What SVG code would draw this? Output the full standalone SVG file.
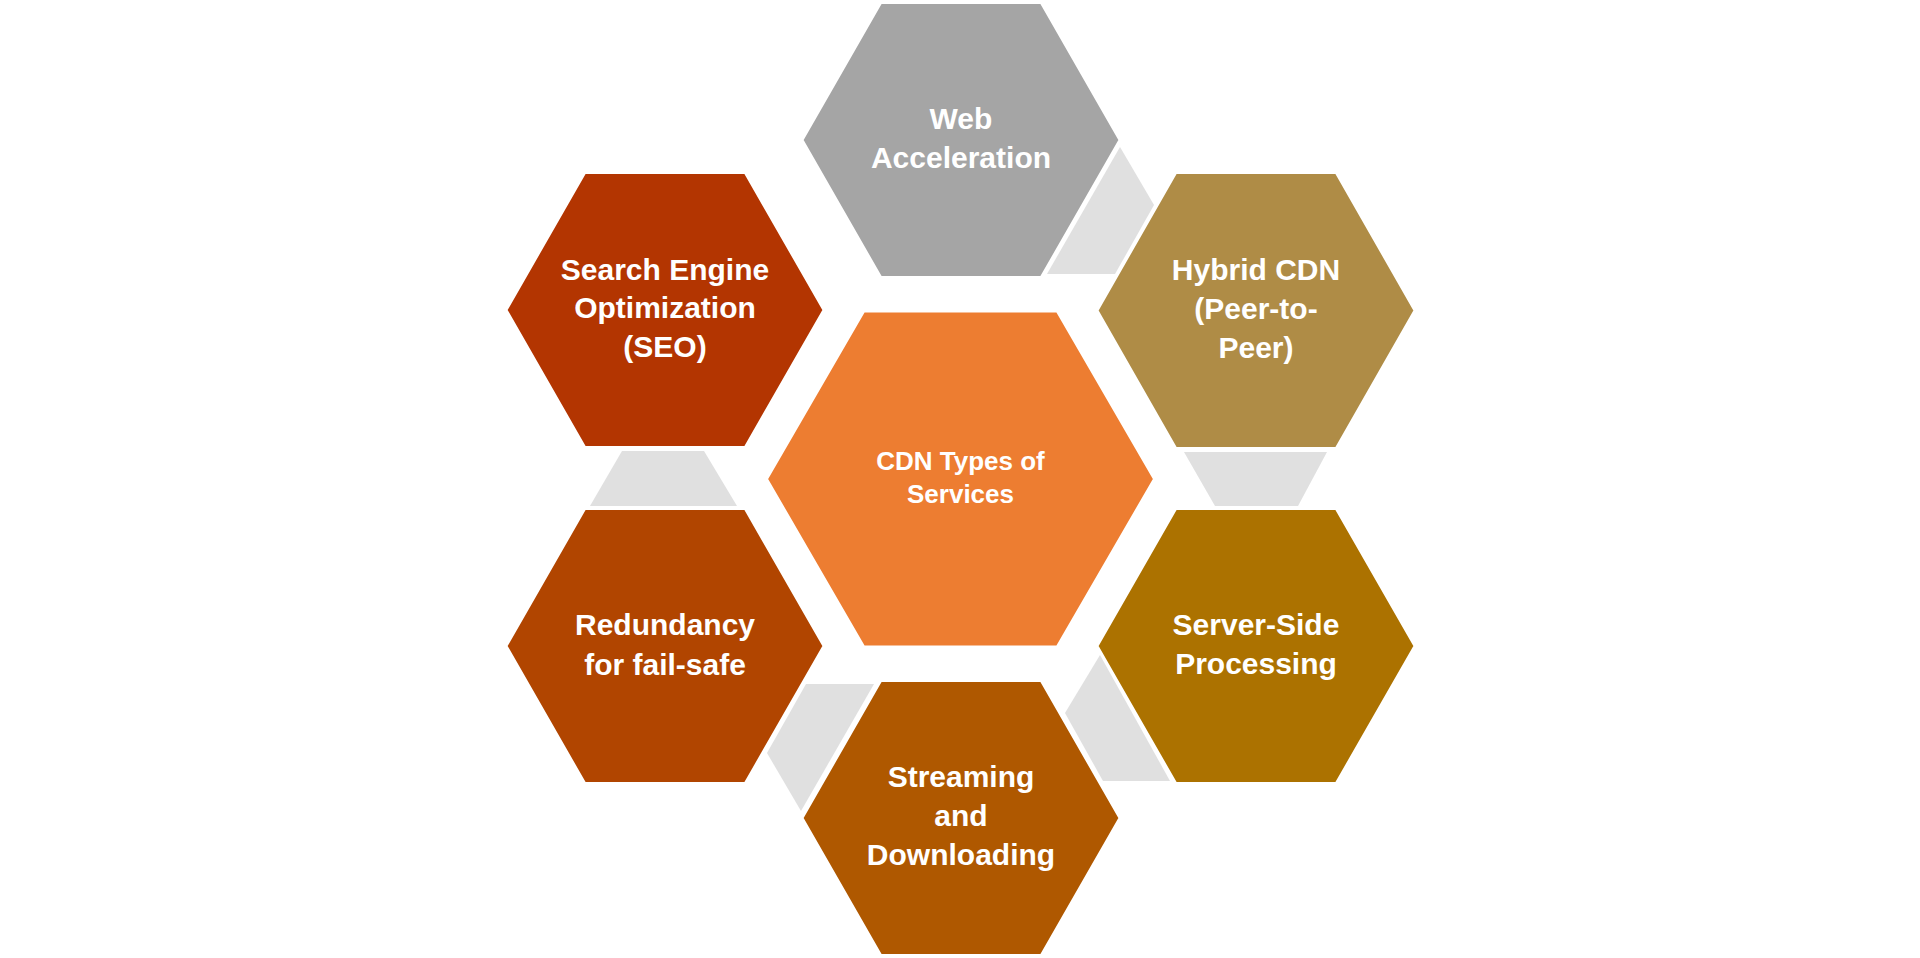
<svg xmlns="http://www.w3.org/2000/svg" width="1920" height="958" viewBox="0 0 1920 958">
<style>
.hex{stroke:#ffffff;stroke-width:2}
.con{fill:#E0E0E0;stroke:none}
.t{font-family:"Liberation Sans",Arial,sans-serif;font-weight:bold;font-size:30px;fill:#ffffff;text-anchor:middle}
.tc{font-family:"Liberation Sans",Arial,sans-serif;font-weight:bold;font-size:26px;fill:#ffffff;text-anchor:middle}
</style>
<rect width="1920" height="958" fill="#ffffff"/>
<g id="connectors">
<polygon class="con" points="1120,147 1154,205 1115,274 1047,274"/>
<polygon class="con" points="1184,452 1327,452 1298,506 1215,506"/>
<polygon class="con" points="1100,655 1065,713 1103,781 1170,781"/>
<polygon class="con" points="806,684 874,684 801,811 767,753"/>
<polygon class="con" points="622,451 704,451 737,506 590,506"/>
</g>
<g id="center">
<polygon class="hex" fill="#ED7D31" points="864,311.5 1057,311.5 1154,479 1057,646.5 864,646.5 767,479"/>
<text class="tc" x="960.5" y="470">CDN Types of</text>
<text class="tc" x="960.5" y="503">Services</text>
</g>
<g id="web">
<polygon class="hex" fill="#A5A5A5" points="881,3 1041,3 1119.5,140 1041,277 881,277 802.5,140"/>
<text class="t" x="961" y="129">Web</text>
<text class="t" x="961" y="168">Acceleration</text>
</g>
<g id="hybrid">
<polygon class="hex" fill="#AF8C46" points="1176,173 1336,173 1414.5,310.5 1336,448 1176,448 1097.5,310.5"/>
<text class="t" x="1256" y="280">Hybrid CDN</text>
<text class="t" x="1256" y="319">(Peer-to-</text>
<text class="t" x="1256" y="358">Peer)</text>
</g>
<g id="server">
<polygon class="hex" fill="#AC7200" points="1176,509 1336,509 1414.5,646 1336,783 1176,783 1097.5,646"/>
<text class="t" x="1256" y="635">Server-Side</text>
<text class="t" x="1256" y="674">Processing</text>
</g>
<g id="streaming">
<polygon class="hex" fill="#AF5800" points="881,681 1041,681 1119.5,818 1041,955 881,955 802.5,818"/>
<text class="t" x="961" y="787">Streaming</text>
<text class="t" x="961" y="826">and</text>
<text class="t" x="961" y="865">Downloading</text>
</g>
<g id="redundancy">
<polygon class="hex" fill="#B14500" points="585,509 745,509 823.5,646 745,783 585,783 506.5,646"/>
<text class="t" x="665" y="635">Redundancy</text>
<text class="t" x="665" y="675">for fail-safe</text>
</g>
<g id="seo">
<polygon class="hex" fill="#B33501" points="585,173 745,173 823.5,310 745,447 585,447 506.5,310"/>
<text class="t" x="665" y="280">Search Engine</text>
<text class="t" x="665" y="318">Optimization</text>
<text class="t" x="665" y="357">(SEO)</text>
</g>
</svg>
